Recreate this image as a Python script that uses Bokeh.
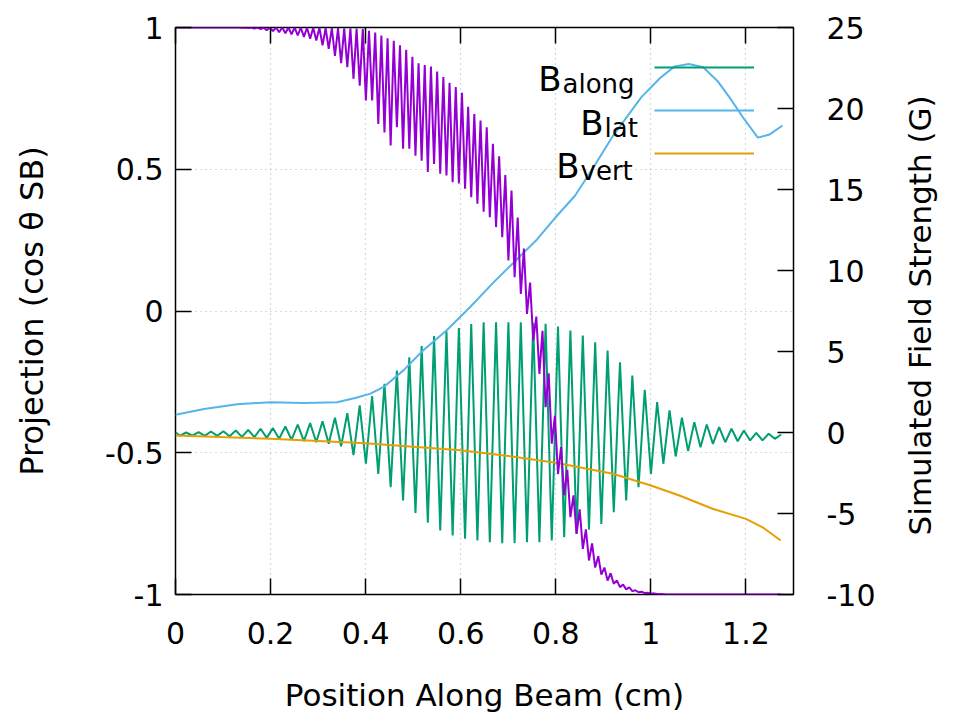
import math
from bokeh.plotting import figure
from bokeh.models import Range1d, LinearAxis, Label, Legend, LegendItem, FixedTicker
from bokeh.embed import file_html
from bokeh.resources import INLINE

# ---------------- data ----------------
x_ticks = [0, 0.2, 0.4, 0.6, 0.8, 1.0, 1.2]
x_tick_labels = ["0", "0.2", "0.4", "0.6", "0.8", "1", "1.2"]
y_ticks = [-1, -0.5, 0, 0.5, 1]
y_tick_labels = ["-1", "-0.5", "0", "0.5", "1"]
g_ticks = [-10, -5, 0, 5, 10, 15, 20, 25]
g_tick_labels = ["-10", "-5", "0", "5", "10", "15", "20", "25"]

# positions (cm) of the B_along maxima / minima
peak_x = [0.0225, 0.0486, 0.0747, 0.1007, 0.1268, 0.1529, 0.1789, 0.2050, 0.2311, 0.2571,
          0.2832, 0.3093, 0.3354, 0.3614, 0.3875, 0.4136, 0.4396, 0.4657, 0.4918, 0.5178,
          0.5439, 0.5700, 0.5961, 0.6221, 0.6482, 0.6743, 0.7003, 0.7264, 0.7525, 0.7785,
          0.8046, 0.8307, 0.8568, 0.8828, 0.9089, 0.9350, 0.9610, 0.9871, 1.0132, 1.0392,
          1.0653, 1.0914, 1.1175, 1.1435, 1.1696, 1.1957, 1.2217, 1.2478, 1.2739]
trough_x = [0.0094, 0.0355, 0.0616, 0.0877, 0.1137, 0.1398, 0.1659, 0.1919, 0.2180, 0.2441,
            0.2701, 0.2962, 0.3223, 0.3484, 0.3744, 0.4005, 0.4266, 0.4526, 0.4787, 0.5048,
            0.5308, 0.5569, 0.5830, 0.6091, 0.6351, 0.6612, 0.6873, 0.7133, 0.7394, 0.7655,
            0.7915, 0.8176, 0.8437, 0.8698, 0.8958, 0.9219, 0.9480, 0.9740, 1.0001, 1.0262,
            1.0522, 1.0783, 1.1044, 1.1305, 1.1565, 1.1826, 1.2087, 1.2347, 1.2608]

# B_along (G): values at maxima and minima
along_peak = [0.0, 0.02, 0.06, 0.08, 0.12, 0.16, 0.23, 0.27, 0.37, 0.49,
              0.58, 0.70, 0.91, 1.19, 1.67, 2.24, 3.0, 3.83, 4.65, 5.33,
              5.95, 6.25, 6.45, 6.7, 6.8, 6.81, 6.81, 6.81, 6.75, 6.71,
              6.54, 6.3, 5.99, 5.57, 5.06, 4.34, 3.52, 2.64, 1.87, 1.36,
              0.91, 0.64, 0.49, 0.33, 0.23, 0.12, -0.02, -0.08, -0.12]
along_trough = [-0.19, -0.19, -0.21, -0.21, -0.23, -0.27, -0.29, -0.33, -0.39, -0.45,
                -0.53, -0.60, -0.70, -0.85, -1.4, -1.93, -2.55, -3.38, -4.2, -4.96,
                -5.57, -6.05, -6.36, -6.56, -6.67, -6.77, -6.83, -6.83, -6.77, -6.77,
                -6.67, -6.46, -6.25, -6.0, -5.64, -4.92, -4.2, -3.38, -2.55, -1.93,
                -1.48, -1.15, -0.91, -0.70, -0.6, -0.54, -0.49, -0.49, -0.39]
along_start = 0.0

# projection cos(theta_SB): it dips at every B_along maximum and minimum
# (twice per field period) and peaks in between
cos_dips = [1.0, 1.0, 1.0, 1.0, 1.0, 1.0, 1.0, 1.0, 1.0, 1.0,
            0.999, 0.998, 0.996, 0.994, 0.99, 0.987, 0.983, 0.98, 0.976, 0.972,
            0.967, 0.96, 0.954, 0.937, 0.925, 0.9, 0.874, 0.86, 0.819, 0.795,
            0.743, 0.743, 0.66, 0.63, 0.584, 0.648, 0.572, 0.572, 0.548, 0.53,
            0.49, 0.519, 0.484, 0.478, 0.454, 0.45, 0.431, 0.401, 0.378, 0.35,
            0.331, 0.296, 0.26, 0.178, 0.119, 0.06, -0.01, -0.104, -0.222, -0.339,
            -0.468, -0.575, -0.65, -0.727, -0.786, -0.839, -0.88, -0.905, -0.93, -0.951,
            -0.962, -0.974, -0.982, -0.988, -0.992, -0.995, -0.997, -0.998, -0.999, -1.0,
            -1.0, -1.0, -1.0, -1.0, -1.0, -1.0, -1.0, -1.0, -1.0, -1.0,
            -1.0, -1.0, -1.0, -1.0, -1.0, -1.0, -1.0, -1.0]
cos_tops = [1.0, 1.0, 1.0, 1.0, 1.0, 1.0, 1.0, 1.0, 1.0, 1.0,
            1.0, 1.0, 1.0, 1.0, 1.0, 1.0, 1.0, 1.0, 1.0, 1.0,
            0.999, 0.999, 0.999, 0.998, 0.998, 0.998, 0.997, 0.997, 0.996, 0.995,
            0.988, 0.982, 0.972, 0.962, 0.953, 0.937, 0.921, 0.897, 0.874, 0.868,
            0.862, 0.845, 0.825, 0.805, 0.79, 0.77, 0.72, 0.695, 0.672, 0.648,
            0.59, 0.546, 0.48, 0.425, 0.33, 0.22, 0.1, -0.02, -0.07, -0.22,
            -0.37, -0.48, -0.56, -0.65, -0.70, -0.77, -0.82, -0.865, -0.905, -0.925,
            -0.95, -0.965, -0.975, -0.985, -0.99, -0.994, -0.996, -0.998, -1.0, -1.0,
            -1.0, -1.0, -1.0, -1.0, -1.0, -1.0, -1.0, -1.0, -1.0, -1.0,
            -1.0, -1.0, -1.0, -1.0, -1.0, -1.0, -1.0]
cos_start = 1.0

# B_lat (G)
lat_x = [0.0, 0.06, 0.13, 0.2, 0.27, 0.34, 0.38, 0.41, 0.44, 0.48, 0.52, 0.57, 0.62,
         0.67, 0.71, 0.76, 0.80, 0.84, 0.88, 0.92, 0.98, 1.02, 1.05, 1.08, 1.11,
         1.14, 1.165, 1.195, 1.225, 1.25, 1.277]
lat_g = [1.1, 1.45, 1.75, 1.87, 1.82, 1.87, 2.14, 2.4, 2.85, 3.85, 5.05, 6.3, 7.75,
         9.3, 10.45, 11.9, 13.3, 14.6, 16.4, 18.3, 20.7, 21.9, 22.6, 22.75, 22.55,
         21.7, 20.7, 19.4, 18.2, 18.4, 18.95]

# B_vert (G)
vert_x = [0.0, 0.2, 0.4, 0.6, 0.7, 0.8, 0.92, 1.0, 1.06, 1.13, 1.2, 1.235, 1.273]
vert_g = [-0.19, -0.39, -0.66, -1.1, -1.45, -1.87, -2.55, -3.27, -3.89, -4.71, -5.33, -5.85, -6.67]

legend_names = [("B", "along"), ("B", "lat"), ("B", "vert")]
right_title_text = "Simulated Field Strength (G)"

# ---------------- assemble the polylines ----------------
ext = sorted(list(zip(peak_x, along_peak)) + list(zip(trough_x, along_trough)))
along_x = [0.0] + [a for a, _ in ext]
along_y = [along_start] + [b for _, b in ext]

dip_x = sorted(peak_x + trough_x)
top_x = [(a + b) / 2 for a, b in zip(dip_x[:-1], dip_x[1:])]
cos_x, cos_y = [0.0], [cos_start]
for i, (xd, yd) in enumerate(zip(dip_x, cos_dips)):
    cos_x.append(xd)
    cos_y.append(yd)
    if i < len(top_x):
        cos_x.append(top_x[i])
        cos_y.append(cos_tops[i])

# ---------------- layout ----------------
W, H = 959, 725
L, R, T, B = 175, 793, 27, 594
X0, X1 = 0.0, 1.3
Y0, Y1 = -1.0, 1.0
G0, G1 = -10.0, 25.0
FONT = "DejaVu Sans"
TICK_FS = "30px"
TITLE_FS = "31px"


def dx(px):
    return X0 + (px - L) / (R - L) * (X1 - X0)


def dy(py):
    return Y1 - (py - T) / (B - T) * (Y1 - Y0)


p = figure(width=W, height=H, x_range=Range1d(X0, X1), y_range=Range1d(Y0, Y1),
           output_backend="svg", toolbar_location=None,
           min_border_left=L, min_border_right=W - R, min_border_top=T, min_border_bottom=H - B)
p.extra_y_ranges = {"g": Range1d(G0, G1)}
p.background_fill_color = "white"
p.border_fill_color = "white"
p.outline_line_color = "black"
p.outline_line_width = 1.5
p.outline_line_alpha = 1.0

bottom = p.below[0]
left = p.left[0]
right = LinearAxis(y_range_name="g")
p.add_layout(right, "right")
top = LinearAxis()
p.add_layout(top, "above")

bottom.ticker = FixedTicker(ticks=x_ticks)
bottom.major_label_overrides = dict(zip(x_ticks, x_tick_labels))
top.ticker = FixedTicker(ticks=x_ticks)
top.major_label_overrides = {t: "" for t in x_ticks}
left.ticker = FixedTicker(ticks=y_ticks)
left.major_label_overrides = dict(zip(y_ticks, y_tick_labels))
right.ticker = FixedTicker(ticks=g_ticks)
right.major_label_overrides = dict(zip(g_ticks, g_tick_labels))

for ax in [bottom, left, right, top]:
    ax.axis_line_color = None
    ax.major_tick_in = 16
    ax.major_tick_out = 0
    ax.major_tick_line_color = "black"
    ax.major_tick_line_width = 1.5
    ax.minor_tick_line_color = None
    ax.major_label_text_font = FONT
    ax.major_label_text_color = "black"
    ax.axis_label_text_font = FONT
    ax.axis_label_text_font_size = TITLE_FS
    ax.axis_label_text_font_style = "normal"
    ax.axis_label_text_color = "black"
for ax in [bottom, left, right]:
    ax.major_label_text_font_size = TICK_FS
top.major_label_text_font_size = "1px"
top.major_label_standoff = 0

left.major_label_standoff = 12
right.major_label_standoff = 33
bottom.major_label_standoff = 27

bottom.axis_label = "Position Along Beam (cm)"
bottom.axis_label_standoff = 30
left.axis_label = "Projection (cos θ SB)"
left.axis_label_text_font_size = "32px"
left.axis_label_standoff = 51

# right title reads bottom-to-top, starting near the bottom of the frame
right.axis_label_standoff = 42
try:
    right.axis_label_align = "start"
    right.axis_label_orientation = math.pi / 2
    right.axis_label = "\u00a0" * 6 + right_title_text
except Exception:
    right.axis_label = right_title_text

p.xgrid.ticker = FixedTicker(ticks=x_ticks)
p.ygrid.ticker = FixedTicker(ticks=y_ticks)
for g in [p.xgrid, p.ygrid]:
    g.grid_line_color = "#b4b4b4"
    g.grid_line_dash = "1 4"
    g.grid_line_width = 1.2

# ---------------- series ----------------
r_along = p.line(along_x, along_y, y_range_name="g", line_color="#009e73", line_width=2)
r_lat = p.line(lat_x, lat_g, y_range_name="g", line_color="#56b4e9", line_width=2)
r_vert = p.line(vert_x, vert_g, y_range_name="g", line_color="#e69f00", line_width=2)
r_cos = p.line(cos_x, cos_y, line_color="#9400d3", line_width=2)

# ---------------- legend (line samples) ----------------
leg = Legend(items=[LegendItem(label=" ", renderers=[r]) for r in (r_along, r_lat, r_vert)],
             location=(479, 431), glyph_width=100, glyph_height=20, label_height=20,
             label_width=0, label_standoff=0, spacing=23, padding=0, margin=0,
             label_text_font_size="1px", border_line_color=None, background_fill_alpha=0)
p.add_layout(leg)

# legend texts: B with subscripts, right aligned before the samples
leg_rows = [(78.5, 561, 562), (122.0, 603, 604), (165.5, 579, 580)]
for (main, sub), (base_y, b_right, s_left) in zip(legend_names, leg_rows):
    p.add_layout(Label(x=dx(b_right), y=dy(base_y), text=main, text_align="right",
                       text_baseline="alphabetic", text_font=FONT, text_font_size="34px",
                       text_color="black"))
    p.add_layout(Label(x=dx(s_left), y=dy(base_y + 5), text=sub, text_align="left",
                       text_baseline="alphabetic", text_font=FONT, text_font_size="26px",
                       text_color="black"))

open("out.html", "w").write(file_html(p, INLINE))
